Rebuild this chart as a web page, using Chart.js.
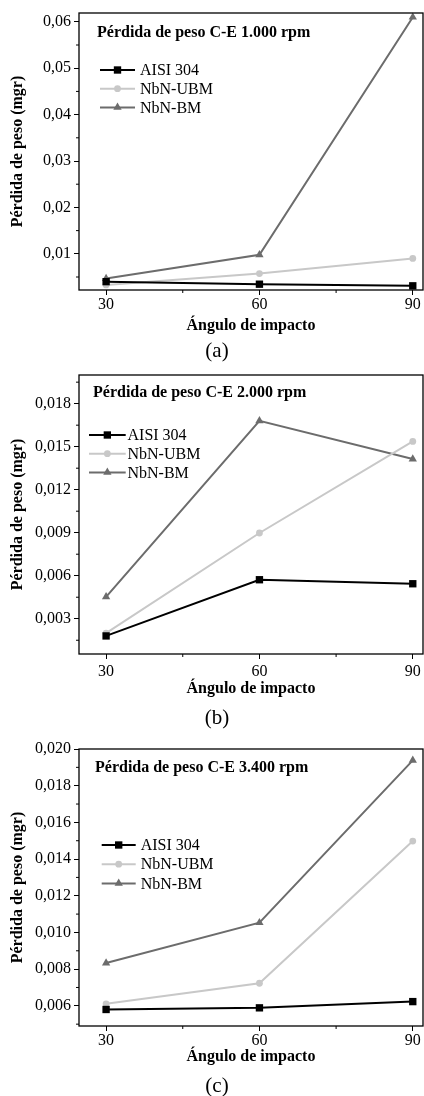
<!DOCTYPE html>
<html>
<head>
<meta charset="utf-8">
<script src="https://cdn.jsdelivr.net/npm/chart.js@4.4.1/dist/chart.umd.min.js"></script>
<style>
  body { margin: 0; background: #fff; width: 424px; height: 1096px; position: relative; overflow: hidden; font-family: "Liberation Serif", "Times New Roman", serif; }
  .panel { position: absolute; left: 0; width: 424px; }
  .cap { position: absolute; left: 0; width: 434px; text-align: center; font-size: 21px; line-height: 24px; color: #000; }
</style>
</head>
<body>
<div class="panel" style="top:0;height:340px"><canvas id="chartA"></canvas></div>
<div class="cap" style="top:338px">(a)</div>
<div class="panel" style="top:360px;height:340px"><canvas id="chartB"></canvas></div>
<div class="cap" style="top:705px">(b)</div>
<div class="panel" style="top:725px;height:342px"><canvas id="chartC"></canvas></div>
<div class="cap" style="top:1073px">(c)</div>

<script>
// Data
const angles = [30, 60, 90];
const seriesNames = ['AISI 304', 'NbN-UBM', 'NbN-BM'];

// (a) 1.000 rpm
const aisi1000 = [0.0040, 0.00345, 0.0031];
const ubm1000 = [0.0033, 0.00575, 0.0090];
const bm1000 = [0.00467, 0.0098, 0.0610];

// (b) 2.000 rpm
const aisi2000 = [0.0018, 0.00572, 0.00544];
const ubm2000 = [0.0020, 0.00898, 0.01537];
const bm2000 = [0.00453, 0.0168, 0.01414];

// (c) 3.400 rpm
const aisi3400 = [0.0058, 0.00589, 0.00623];
const ubm3400 = [0.00611, 0.00723, 0.01498];
const bm3400 = [0.00833, 0.01053, 0.01938];

// Tick labels
const xTicks = [30, 60, 90];
const yTicks1000 = [0.01, 0.02, 0.03, 0.04, 0.05, 0.06];
const yTicks2000 = [0.003, 0.006, 0.009, 0.012, 0.015, 0.018];
const yTicks3400 = [0.006, 0.008, 0.010, 0.012, 0.014, 0.016, 0.018, 0.020];

const FONT = '"Liberation Serif", "Times New Roman", serif';
const styles = [
    { color: '#000000', pointStyle: 'rect', radius: 5.2, width: 2 },
    { color: '#c8c8c8', pointStyle: 'circle', radius: 3.4, width: 2 },
    { color: '#6c6c6c', pointStyle: 'triangle', radius: 4.8, width: 2 }
];

function toPoints(values) {
    return values.map((v, i) => ({ x: angles[i], y: v }));
}

function drawMarker(ctx, style, r, x, y) {
    ctx.beginPath();
    if (style === 'rect') {
        const s = r * Math.SQRT1_2;
        ctx.rect(x - s, y - s, 2 * s, 2 * s);
    } else if (style === 'triangle') {
        ctx.moveTo(x, y - r);
        ctx.lineTo(x + r * 0.866, y + r * 0.5);
        ctx.lineTo(x - r * 0.866, y + r * 0.5);
        ctx.closePath();
    } else {
        ctx.arc(x, y, r, 0, Math.PI * 2);
    }
    ctx.fill();
}

// Frame, minor ticks, inner title and legend
const insetPlugin = {
    id: 'inset',
    afterDraw(chart, args, opts) {
        const ctx = chart.ctx;
        const area = chart.chartArea;
        ctx.save();
        ctx.strokeStyle = '#000';
        ctx.lineWidth = 1.3;
        ctx.strokeRect(area.left, area.top, area.right - area.left, area.bottom - area.top);

        // minor ticks halfway between major ones
        ctx.lineWidth = 1;
        ['x', 'y'].forEach(id => {
            const scale = chart.scales[id];
            const majors = scale.ticks.map(t => t.value);
            const step = majors[1] - majors[0];
            for (let v = majors[0] - step / 2; v <= scale.max + 1e-9; v += step) {
                if (v < scale.min) continue;
                const p = scale.getPixelForValue(v);
                ctx.beginPath();
                if (id === 'x') {
                    ctx.moveTo(p, area.bottom);
                    ctx.lineTo(p, area.bottom + 3);
                } else {
                    ctx.moveTo(area.left, p);
                    ctx.lineTo(area.left - 3, p);
                }
                ctx.stroke();
            }
        });

        // title inside the plot
        ctx.fillStyle = '#000';
        ctx.font = 'bold 16px ' + FONT;
        ctx.textBaseline = 'middle';
        ctx.textAlign = 'left';
        ctx.fillText(opts.title, opts.titleX, opts.titleY);

        // legend
        ctx.font = '16px ' + FONT;
        chart.data.datasets.forEach((ds, i) => {
            const y = opts.legendY + i * opts.rowGap;
            ctx.strokeStyle = ds.borderColor;
            ctx.fillStyle = ds.borderColor;
            ctx.lineWidth = ds.borderWidth;
            ctx.beginPath();
            ctx.moveTo(opts.lineX0, y);
            ctx.lineTo(opts.lineX1, y);
            ctx.stroke();
            drawMarker(ctx, ds.pointStyle, ds.pointRadius, (opts.lineX0 + opts.lineX1) / 2, y);
            ctx.fillStyle = '#000';
            ctx.fillText(ds.label, opts.textX, y + 1);
        });
        ctx.restore();
    }
};

function makeChart(id, cfg) {
    const datasets = cfg.series.map((vals, i) => ({
        label: seriesNames[i],
        data: toPoints(vals),
        borderColor: styles[i].color,
        backgroundColor: styles[i].color,
        borderWidth: styles[i].width,
        pointStyle: styles[i].pointStyle,
        pointRadius: styles[i].radius,
        pointBorderWidth: 0,
        order: i,
        clip: 8,
        tension: 0
    }));
    const decimals = cfg.decimals;
    return new Chart(document.getElementById(id).getContext('2d'), {
        type: 'line',
        data: { datasets: datasets },
        options: {
            responsive: true,
            maintainAspectRatio: false,
            animation: false,
            layout: { autoPadding: false, padding: { top: cfg.padTop, right: 1, left: 0, bottom: 0 } },
            plugins: {
                legend: { display: false },
                tooltip: { enabled: false },
                inset: cfg.inset
            },
            scales: {
                x: {
                    type: 'linear',
                    min: 24.7,
                    max: 92,
                    afterBuildTicks: s => { s.ticks = xTicks.map(v => ({ value: v })); },
                    afterFit: s => { s.height = cfg.xHeight; s.paddingLeft = 0; s.paddingRight = 0; },
                    grid: { drawOnChartArea: false, tickLength: 5, tickColor: '#000', tickWidth: 1 },
                    border: { display: false },
                    ticks: { color: '#000', padding: cfg.xTickPad, font: { family: FONT, size: 16 }, maxRotation: 0 },
                    title: { display: true, text: 'Ángulo de impacto', color: '#000', padding: { top: 0, bottom: cfg.xTitlePad }, font: { family: FONT, size: 16, weight: 'bold' } }
                },
                y: {
                    min: cfg.yMin,
                    max: cfg.yMax,
                    afterBuildTicks: s => { s.ticks = cfg.yTicks.map(v => ({ value: v })); },
                    afterFit: s => { s.width = 79; s.paddingTop = 0; s.paddingBottom = 0; },
                    grid: { drawOnChartArea: false, tickLength: 5, tickColor: '#000', tickWidth: 1 },
                    border: { display: false },
                    ticks: {
                        color: '#000', padding: 3, font: { family: FONT, size: 16 },
                        callback: v => v.toFixed(decimals).replace('.', ',')
                    },
                    title: { display: true, text: 'Pérdida de peso (mgr)', color: '#000', padding: { top: 8.4, bottom: 0 }, font: { family: FONT, size: 16, weight: 'bold' } }
                }
            }
        },
        plugins: [insetPlugin]
    });
}

makeChart('chartA', {
    series: [aisi1000, ubm1000, bm1000],
    yTicks: yTicks1000, decimals: 2,
    yMin: 0.0022, yMax: 0.0619,
    padTop: 13, xHeight: 50, xTickPad: 0, xTitlePad: 5,
    inset: { title: 'Pérdida de peso C-E 1.000 rpm', titleX: 97, titleY: 33,
             lineX0: 100, lineX1: 135, textX: 140, legendY: 70, rowGap: 18.7 }
});

makeChart('chartB', {
    series: [aisi2000, ubm2000, bm2000],
    yTicks: yTicks2000, decimals: 3,
    yMin: 0.00054, yMax: 0.0200,
    padTop: 15, xHeight: 46, xTickPad: 3, xTitlePad: 2,
    inset: { title: 'Pérdida de peso C-E 2.000 rpm', titleX: 93, titleY: 33,
             lineX0: 89, lineX1: 125.7, textX: 127.5, legendY: 75, rowGap: 18.7 }
});

makeChart('chartC', {
    series: [aisi3400, ubm3400, bm3400],
    yTicks: yTicks3400, decimals: 3,
    yMin: 0.0049, yMax: 0.0200,
    padTop: 24, xHeight: 41, xTickPad: 0, xTitlePad: 0.7,
    inset: { title: 'Pérdida de peso C-E 3.400 rpm', titleX: 95, titleY: 42.7,
             lineX0: 101.7, lineX1: 135.7, textX: 140.7, legendY: 120, rowGap: 19.2 }
});
</script>
</body>
</html>
